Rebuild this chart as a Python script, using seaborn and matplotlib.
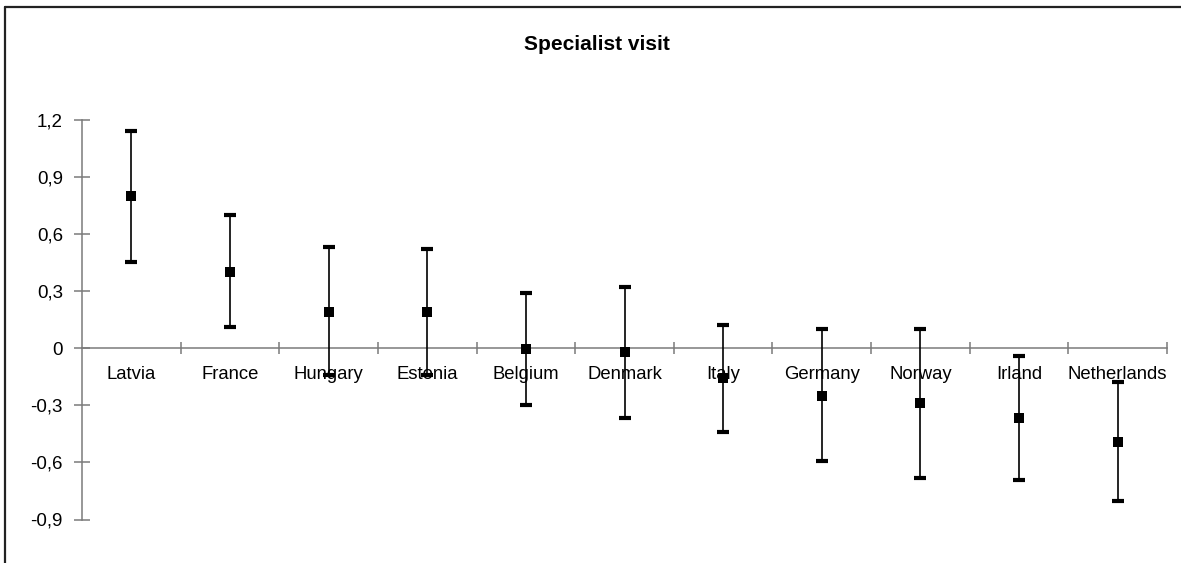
import numpy as np
import pandas as pd
import matplotlib
matplotlib.use("Agg")
import matplotlib.pyplot as plt
from matplotlib.lines import Line2D
import seaborn as sns

# data
countries = ["Latvia", "France", "Hungary", "Estonia", "Belgium", "Denmark",
             "Italy", "Germany", "Norway", "Irland", "Netherlands"]
estimate = [0.80, 0.40, 0.19, 0.19, -0.005, -0.02, -0.155, -0.25, -0.29, -0.365, -0.49]
upper = [1.14, 0.70, 0.53, 0.52, 0.29, 0.32, 0.12, 0.10, 0.10, -0.04, -0.175]
lower = [0.455, 0.11, -0.14, -0.14, -0.30, -0.365, -0.44, -0.595, -0.68, -0.69, -0.805]
yticks = [-0.9, -0.6, -0.3, 0, 0.3, 0.6, 0.9, 1.2]
ytick_labels = ["-0,9", "-0,6", "-0,3", "0", "0,3", "0,6", "0,9", "1,2"]

df = pd.DataFrame({"country": countries, "est": estimate, "hi": upper, "lo": lower})
df["pos"] = np.arange(len(df))

sns.set_theme(style="white")
plt.rcParams['font.family'] = ['Liberation Sans', 'DejaVu Sans']

W, H = 1181, 563
fig = plt.figure(figsize=(W / 100, H / 100), dpi=100)
ax = fig.add_axes([82 / W, 1 - 519.5 / H, 1085 / W, 399.5 / H])

axis_col = "#7a7a7a"

# confidence interval lines with thick caps
ax.errorbar(df["pos"], df["est"],
            yerr=[df["est"] - df["lo"], df["hi"] - df["est"]],
            fmt="none", ecolor="black", elinewidth=1.2,
            capsize=4, capthick=3, zorder=3)
sns.scatterplot(data=df, x="pos", y="est", marker="s", s=48,
                color="black", edgecolor="black", linewidth=0, ax=ax, zorder=4)

ax.set_xlim(-0.5, len(df) - 0.5)
ax.set_ylim(-0.9, 1.2)
ax.set_xlabel("")
ax.set_ylabel("")

# spines
for s in ["top", "right"]:
    ax.spines[s].set_visible(False)
ax.spines["left"].set_color(axis_col)
ax.spines["left"].set_linewidth(1.1)
ax.spines["bottom"].set_position(("data", 0))
ax.spines["bottom"].set_color(axis_col)
ax.spines["bottom"].set_linewidth(1.1)

# y ticks
ax.set_yticks(yticks)
ax.set_yticklabels(ytick_labels)
ax.tick_params(axis="y", direction="inout", length=11.5, width=1.1,
               color=axis_col, labelsize=13.5, labelcolor="black", pad=8, left=True)

# x ticks: labels at centres, marks at category boundaries
ax.set_xticks(df["pos"])
ax.set_xticklabels(df["country"])
ax.tick_params(axis="x", which="major", length=0, labelsize=13.3,
               labelcolor="black", pad=13, bottom=True)
ax.set_xticks(np.arange(0.5, len(df), 1), minor=True)
ax.tick_params(axis="x", which="minor", direction="inout", length=8, width=1.1,
               color=axis_col, bottom=True)

ax.grid(False)

fig.text(597 / W, 1 - 44 / H, "Specialist visit", ha="center", va="center",
         fontsize=15, fontweight="bold", color="black")

# chart area border (left and top edges visible)
fig.add_artist(Line2D([5 / W, 5 / W], [0, 1 - 7 / H], transform=fig.transFigure,
                      color="#222222", lw=1.6))
fig.add_artist(Line2D([5 / W, 1], [1 - 7 / H, 1 - 7 / H], transform=fig.transFigure,
                      color="#222222", lw=1.6))

fig.savefig("out.png", dpi=100)
